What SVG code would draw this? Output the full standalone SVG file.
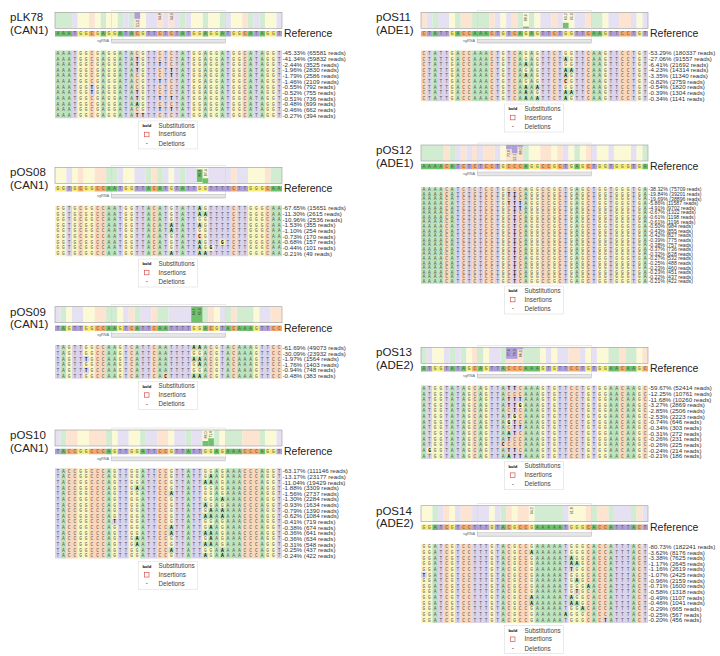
<svg xmlns="http://www.w3.org/2000/svg" xmlns:xlink="http://www.w3.org/1999/xlink" width="720" height="656" viewBox="0 0 720 656">
<style>
.A,.C,.G,.T,.a,.c,.g,.t{fill:none;stroke-width:1}
.A{stroke:#6ec26e}.C{stroke:#f6a86a}.G{stroke:#f3ec7a}.T{stroke:#ae9fd7}
.a{stroke:#bee4be}.c{stroke:#fbd8bc}.g{stroke:#faf7c3}.t{stroke:#dbd4ed}
.s{font-family:"Liberation Mono",monospace;font-size:4.6px;letter-spacing:2.915px;fill:#555}
.b{font-weight:bold;fill:#000}
.p{font-family:"Liberation Sans",Arial,sans-serif;font-size:6.2px;fill:#333}
.p2{font-family:"Liberation Sans",Arial,sans-serif;font-size:5.2px;fill:#333}
.lab{font-family:"Liberation Sans",Arial,sans-serif;font-size:11.5px;fill:#222}
.rf{font-family:"Liberation Sans",Arial,sans-serif;font-size:10.5px;fill:#222}
.lt{font-family:"Liberation Sans",Arial,sans-serif;font-size:6.3px;fill:#444}
.lb{font-family:"Liberation Sans",Arial,sans-serif;font-size:4.2px;font-weight:bold;fill:#000}
.sgl{font-family:"Liberation Sans",Arial,sans-serif;font-size:3.8px;fill:#666}
.m{font-family:"Liberation Sans",Arial,sans-serif;font-size:3.6px;fill:#333;text-anchor:middle}
.fr{fill:none;stroke:#999;stroke-width:.6}
.win{fill:none;stroke:#d4d4d4;stroke-width:.5}
.sg{fill:#e6e6e6;stroke:#aaa;stroke-width:.4}
</style>
<defs>
<g id="lg">
<rect x="83.3" width="59" height="28" fill="#fff" stroke="#ddd" stroke-width=".6"/>
<text class="lb" x="87.5" y="6.4">bold</text>
<text class="lt" x="103.5" y="6.9">Substitutions</text>
<rect x="89.5" y="11.3" width="4.5" height="4.5" fill="none" stroke="#d9534f" stroke-width=".7"/>
<text class="lt" x="103.5" y="15.5">Insertions</text>
<text class="lt" x="90.8" y="24.2">-</text>
<text class="lt" x="103.5" y="24.9">Deletions</text>
</g>
<g id="k1">
<path class="A" d="M0 .5h3M8 .5h1M11 .5h1M13 .5h1M22 .5h1M26 .5h1M29 .5h1M34 .5h1M36 .5h1"/>
<path class="T" d="M3 .5h1M12 .5h1M16 .5h2M19 .5h1M21 .5h1M23 .5h1M30 .5h1M35 .5h1M39 .5h1"/>
<path class="G" d="M4 .5h2M7 .5h1M9 .5h2M15 .5h1M24 .5h2M27 .5h2M31 .5h2M37 .5h2"/>
<path class="C" d="M6 .5h1M14 .5h1M18 .5h1M20 .5h1M33 .5h1"/>
</g>
<g id="k2">
<path class="G" d="M0 .5h2M3 .5h1M5 .5h2M12 .5h2M20 .5h1M25 .5h2M34 .5h3"/>
<path class="T" d="M2 .5h1M11 .5h1M14 .5h2M19 .5h1M21 .5h1M23 .5h2M27 .5h4M32 .5h2"/>
<path class="C" d="M4 .5h1M7 .5h2M17 .5h1M31 .5h1M37 .5h1"/>
<path class="A" d="M9 .5h2M16 .5h1M18 .5h1M22 .5h1M38 .5h2"/>
</g>
<g id="k3">
<path class="T" d="M0 .5h1M3 .5h2M12 .5h1M15 .5h2M20 .5h4M29 .5h1M36 .5h2"/>
<path class="A" d="M1 .5h1M9 .5h2M14 .5h1M18 .5h2M26 .5h1M30 .5h1M32 .5h3"/>
<path class="G" d="M2 .5h1M5 .5h2M11 .5h1M24 .5h2M28 .5h1M35 .5h1"/>
<path class="C" d="M7 .5h2M13 .5h1M17 .5h1M27 .5h1M31 .5h1M38 .5h2"/>
</g>
<g id="k4">
<path class="T" d="M0 .5h1M11 .5h2M16 .5h2M21 .5h2M24 .5h2M39 .5h1"/>
<path class="A" d="M1 .5h1M9 .5h1M15 .5h1M23 .5h1M28 .5h1M30 .5h3M36 .5h1"/>
<path class="C" d="M2 .5h2M6 .5h3M18 .5h2M33 .5h3"/>
<path class="G" d="M4 .5h2M10 .5h1M13 .5h2M20 .5h1M26 .5h2M29 .5h1M37 .5h2"/>
</g>
<g id="k5">
<path class="C" d="M0 .5h1M7 .5h2M12 .5h1M16 .5h1M23 .5h1M29 .5h1M35 .5h2"/>
<path class="T" d="M1 .5h1M3 .5h2M13 .5h1M15 .5h1M21 .5h2M24 .5h1M27 .5h2M33 .5h2M37 .5h1M39 .5h1"/>
<path class="A" d="M2 .5h1M6 .5h1M9 .5h3M17 .5h1M19 .5h1M30 .5h2"/>
<path class="G" d="M5 .5h1M14 .5h1M18 .5h1M20 .5h1M25 .5h2M32 .5h1M38 .5h1"/>
</g>
<g id="k6">
<path class="A" d="M0 .5h4M5 .5h1M18 .5h1M27 .5h1M39 .5h1"/>
<path class="C" d="M4 .5h1M7 .5h1M9 .5h1M11 .5h2M15 .5h3M21 .5h2M24 .5h1M29 .5h1"/>
<path class="T" d="M6 .5h1M8 .5h1M10 .5h1M13 .5h1M25 .5h1M30 .5h1M33 .5h1M37 .5h1"/>
<path class="G" d="M14 .5h1M19 .5h2M23 .5h1M26 .5h1M28 .5h1M31 .5h2M34 .5h3M38 .5h1"/>
</g>
<g id="k7">
<path class="A" d="M0 .5h1M5 .5h1M7 .5h1M10 .5h1M14 .5h1M18 .5h3M33 .5h2M36 .5h2"/>
<path class="T" d="M1 .5h1M4 .5h1M6 .5h1M12 .5h2M22 .5h1M24 .5h2M28 .5h1M30 .5h1"/>
<path class="G" d="M2 .5h2M8 .5h1M11 .5h1M21 .5h1M23 .5h1M29 .5h1M31 .5h2M38 .5h1"/>
<path class="C" d="M9 .5h1M15 .5h3M26 .5h2M35 .5h1M39 .5h1"/>
</g>
<g id="k8">
<path class="G" d="M0 .5h2M5 .5h1M12 .5h1M16 .5h1M19 .5h1M26 .5h3"/>
<path class="A" d="M2 .5h1M14 .5h1M20 .5h5M30 .5h1M33 .5h1M37 .5h1"/>
<path class="T" d="M3 .5h1M6 .5h1M9 .5h3M13 .5h1M25 .5h1M34 .5h3M39 .5h1"/>
<path class="C" d="M4 .5h1M7 .5h2M15 .5h1M17 .5h2M29 .5h1M31 .5h2M38 .5h1"/>
</g>
</defs>
<rect width="720" height="656" fill="#fff"/>

<g id="pLK78" transform="translate(55,12.3)">
<text class="lab" x="-45" y="8.9">pLK78</text><text class="lab" x="-45" y="21.5">(CAN1)</text>
<use href="#k1" transform="scale(5.675,16)" opacity=".3"/>
<rect x="79.45" width="5.675" height="6.5" fill="#ae9fd7"/>
<text class="m" transform="translate(82.29,11.3) rotate(-90)" dy="1.3">51.0</text>
<text class="m" transform="translate(105,4.2) rotate(-90)" dy="1.3">94.8</text>
<text class="m" transform="translate(116.34,4.2) rotate(-90)" dy="1.3">94.9</text>
<rect class="fr" width="227" height="16"/>
<rect class="win" x="56.75" y="-2" width="113.5" height="33"/>
<use href="#k1" transform="translate(0,18.7) scale(5.675,5.6)"/>
<text class="s" x="1.46" y="23.1">AAATGGCGAGGATACGTTCTCTATGGAGGATGGCATAGGT</text>
<text class="rf" x="229" y="25.2">Reference</text>
<rect class="sg" x="56.75" y="27" width="113.5" height="3.4"/><text class="sgl" x="42" y="29.8">sgRNA</text>
<use href="#k1" transform="translate(0,38.175) scale(5.675,67.8)" opacity=".45"/>
<g transform="translate(0,38.175) scale(5.675,5.65)"><path class="t" d="M14 1.5h1M14 2.5h1M18 2.5h1M14 3.5h1M20 3.5h1M20 4.5h1M18 5.5h1M6 6.5h1M6 7.5h1M14 7.5h1M14 8.5h1M18 8.5h1M20 8.5h1M18 10.5h1M20 10.5h1M14 11.5h2"/><path class="a" d="M14 9.5h1"/></g>
<text class="s" y="42.6"><tspan x="1.46">AAATGGCGAGGATACGTTCTCTATGGAGGATGGCATAGGT</tspan><tspan x="1.46" dy="5.65">AAATGGCGAGGATA<tspan class="b">T</tspan>GTTCTCTATGGAGGATGGCATAGGT</tspan><tspan x="1.46" dy="5.65">AAATGGCGAGGATA<tspan class="b">T</tspan>GTT<tspan class="b">T</tspan>TCTATGGAGGATGGCATAGGT</tspan><tspan x="1.46" dy="5.65">AAATGGCGAGGATA<tspan class="b">T</tspan>GTTCT<tspan class="b">T</tspan>TATGGAGGATGGCATAGGT</tspan><tspan x="1.46" dy="5.65">AAATGGCGAGGATACGTTCT<tspan class="b">T</tspan>TATGGAGGATGGCATAGGT</tspan><tspan x="1.46" dy="5.65">AAATGGCGAGGATACGTT<tspan class="b">T</tspan>TCTATGGAGGATGGCATAGGT</tspan><tspan x="1.46" dy="5.65">AAATGG<tspan class="b">T</tspan>GAGGATACGTTCTCTATGGAGGATGGCATAGGT</tspan><tspan x="1.46" dy="5.65">AAATGG<tspan class="b">T</tspan>GAGGATA<tspan class="b">T</tspan>GTTCTCTATGGAGGATGGCATAGGT</tspan><tspan x="1.46" dy="5.65">AAATGGCGAGGATA<tspan class="b">T</tspan>GTT<tspan class="b">T</tspan>T<tspan class="b">T</tspan>TATGGAGGATGGCATAGGT</tspan><tspan x="1.46" dy="5.65">AAATGGCGAGGATA<tspan class="b">A</tspan>GTTCTCTATGGAGGATGGCATAGGT</tspan><tspan x="1.46" dy="5.65">AAATGGCGAGGATACGTT<tspan class="b">T</tspan>T<tspan class="b">T</tspan>TATGGAGGATGGCATAGGT</tspan><tspan x="1.46" dy="5.65">AAATGGCGAGGATA<tspan class="b">TT</tspan>TTCTCTATGGAGGATGGCATAGGT</tspan></text>
<text class="p" y="43.2"><tspan x="227.5">-45.33% (65581 reads)</tspan><tspan x="227.5" dy="5.65">-41.34% (59832 reads)</tspan><tspan x="227.5" dy="5.65">-2.44% (3525 reads)</tspan><tspan x="227.5" dy="5.65">-1.96% (2830 reads)</tspan><tspan x="227.5" dy="5.65">-1.79% (2586 reads)</tspan><tspan x="227.5" dy="5.65">-1.46% (2109 reads)</tspan><tspan x="227.5" dy="5.65">-0.55% (792 reads)</tspan><tspan x="227.5" dy="5.65">-0.52% (755 reads)</tspan><tspan x="227.5" dy="5.65">-0.51% (736 reads)</tspan><tspan x="227.5" dy="5.65">-0.48% (699 reads)</tspan><tspan x="227.5" dy="5.65">-0.46% (662 reads)</tspan><tspan x="227.5" dy="5.65">-0.27% (394 reads)</tspan></text>
<use href="#lg" y="108.65"/>
</g>

<g id="pOS08" transform="translate(55,167.3)">
<text class="lab" x="-45" y="8.9">pOS08</text><text class="lab" x="-45" y="21.5">(CAN1)</text>
<use href="#k2" transform="scale(5.675,16)" opacity=".3"/>
<rect x="141.875" y="2" width="5.675" height="12.7" fill="#6ec26e"/>
<rect x="147.55" y="11" width="5.675" height="5" fill="#6ec26e"/>
<text class="m" transform="translate(144.71,6) rotate(-90)" dy="1.3">80.8</text>
<text class="m" transform="translate(150.39,5.5) rotate(-90)" dy="1.3">87.4</text>
<rect class="fr" width="227" height="16"/>
<rect class="win" x="56.75" y="-2" width="113.5" height="33"/>
<use href="#k2" transform="translate(0,18.7) scale(5.675,5.6)"/>
<text class="s" x="1.46" y="23.1">GGTGCGGCCAATGGTTACATGTATTGGTTTTCTTGGGCAA</text>
<text class="rf" x="229" y="25.2">Reference</text>
<rect class="sg" x="56.75" y="27" width="113.5" height="3.4"/><text class="sgl" x="42" y="29.8">sgRNA</text>
<use href="#k2" transform="translate(0,38.175) scale(5.675,50.85)" opacity=".45"/>
<g transform="translate(0,38.175) scale(5.675,5.65)"><path class="a" d="M25 .5h1M25 1.5h2M20 3.5h1M25 3.5h1M20 4.5h1M25 6.5h1M25 7.5h1M20 8.5h1M25 8.5h2"/><path class="c" d="M25 5.5h1"/><path class="g" d="M29 6.5h1M27 7.5h1"/></g>
<text class="s" y="42.6"><tspan x="1.46">GGTGCGGCCAATGGTTACATGTATT<tspan class="b">A</tspan>GTTTTCTTGGGCAA</tspan><tspan x="1.46" dy="5.65">GGTGCGGCCAATGGTTACATGTATT<tspan class="b">AA</tspan>TTTTCTTGGGCAA</tspan><tspan x="1.46" dy="5.65">GGTGCGGCCAATGGTTACATGTATTGGTTTTCTTGGGCAA</tspan><tspan x="1.46" dy="5.65">GGTGCGGCCAATGGTTACAT<tspan class="b">A</tspan>TATT<tspan class="b">A</tspan>GTTTTCTTGGGCAA</tspan><tspan x="1.46" dy="5.65">GGTGCGGCCAATGGTTACAT<tspan class="b">A</tspan>TATTGGTTTTCTTGGGCAA</tspan><tspan x="1.46" dy="5.65">GGTGCGGCCAATGGTTACATGTATT<tspan class="b">C</tspan>GTTTTCTTGGGCAA</tspan><tspan x="1.46" dy="5.65">GGTGCGGCCAATGGTTACATGTATT<tspan class="b">A</tspan>GTT<tspan class="b">G</tspan>TCTTGGGCAA</tspan><tspan x="1.46" dy="5.65">GGTGCGGCCAATGGTTACATGTATT<tspan class="b">A</tspan>G<tspan class="b">G</tspan>TTTCTTGGGCAA</tspan><tspan x="1.46" dy="5.65">GGTGCGGCCAATGGTTACAT<tspan class="b">A</tspan>TATT<tspan class="b">AA</tspan>TTTTCTTGGGCAA</tspan></text>
<text class="p" y="43.2"><tspan x="227.5">-67.65% (15651 reads)</tspan><tspan x="227.5" dy="5.65">-11.30% (2615 reads)</tspan><tspan x="227.5" dy="5.65">-10.96% (2536 reads)</tspan><tspan x="227.5" dy="5.65">-1.53% (355 reads)</tspan><tspan x="227.5" dy="5.65">-1.10% (254 reads)</tspan><tspan x="227.5" dy="5.65">-0.73% (170 reads)</tspan><tspan x="227.5" dy="5.65">-0.68% (157 reads)</tspan><tspan x="227.5" dy="5.65">-0.44% (101 reads)</tspan><tspan x="227.5" dy="5.65">-0.21% (49 reads)</tspan></text>
<use href="#lg" y="91.7"/>
</g>

<g id="pOS09" transform="translate(55,306.7)">
<text class="lab" x="-45" y="8.9">pOS09</text><text class="lab" x="-45" y="21.5">(CAN1)</text>
<use href="#k3" transform="scale(5.675,16)" opacity=".3"/>
<rect x="136.2" width="11.35" height="16" fill="#6ec26e"/>
<text class="m" transform="translate(139.04,5) rotate(-90)" dy="1.3">64.1</text>
<text class="m" transform="translate(144.71,5) rotate(-90)" dy="1.3">65.9</text>
<rect class="fr" width="227" height="16"/>
<rect class="win" x="56.75" y="-2" width="113.5" height="33"/>
<use href="#k3" transform="translate(0,18.7) scale(5.675,5.6)"/>
<text class="s" x="1.46" y="23.1">TAGTTGGCCAAGTCATTCAATTTTGGACGTACAAAGTTCC</text>
<text class="rf" x="229" y="25.2">Reference</text>
<rect class="sg" x="56.75" y="27" width="113.5" height="3.4"/><text class="sgl" x="42" y="29.8">sgRNA</text>
<use href="#k3" transform="translate(0,38.175) scale(5.675,33.9)" opacity=".45"/>
<g transform="translate(0,38.175) scale(5.675,5.65)"><path class="a" d="M24 .5h2M24 2.5h2M25 3.5h1M24 5.5h2"/><path class="t" d="M5 2.5h1M5 4.5h1"/><path class="c" d="M19 5.5h1"/></g>
<text class="s" y="42.6"><tspan x="1.46">TAGTTGGCCAAGTCATTCAATTTT<tspan class="b">AA</tspan>ACGTACAAAGTTCC</tspan><tspan x="1.46" dy="5.65">TAGTTGGCCAAGTCATTCAATTTTGGACGTACAAAGTTCC</tspan><tspan x="1.46" dy="5.65">TAGTT<tspan class="b">T</tspan>GCCAAGTCATTCAATTTT<tspan class="b">AA</tspan>ACGTACAAAGTTCC</tspan><tspan x="1.46" dy="5.65">TAGTTGGCCAAGTCATTCAATTTTG<tspan class="b">A</tspan>ACGTACAAAGTTCC</tspan><tspan x="1.46" dy="5.65">TAGTT<tspan class="b">T</tspan>GCCAAGTCATTCAATTTTGGACGTACAAAGTTCC</tspan><tspan x="1.46" dy="5.65">TAGTTGGCCAAGTCATTCA<tspan class="b">C</tspan>TTTT<tspan class="b">AA</tspan>ACGTACAAAGTTCC</tspan></text>
<text class="p" y="43.2"><tspan x="227.5">-61.69% (49073 reads)</tspan><tspan x="227.5" dy="5.65">-30.09% (23932 reads)</tspan><tspan x="227.5" dy="5.65">-1.97% (1564 reads)</tspan><tspan x="227.5" dy="5.65">-1.76% (1403 reads)</tspan><tspan x="227.5" dy="5.65">-0.94% (748 reads)</tspan><tspan x="227.5" dy="5.65">-0.48% (383 reads)</tspan></text>
<use href="#lg" y="74.75"/>
</g>

<g id="pOS10" transform="translate(55,430)">
<text class="lab" x="-45" y="8.9">pOS10</text><text class="lab" x="-45" y="21.5">(CAN1)</text>
<use href="#k4" transform="scale(5.675,16)" opacity=".3"/>
<rect x="147.55" y="11" width="5.675" height="5" fill="#6ec26e"/>
<rect x="153.225" y="8.3" width="5.675" height="7.7" fill="#6ec26e"/>
<text class="m" transform="translate(150.39,5) rotate(-90)" dy="1.3">86.0</text>
<text class="m" transform="translate(156.06,4.2) rotate(-90)" dy="1.3">71.6</text>
<rect class="fr" width="227" height="16"/>
<rect class="win" x="56.75" y="-2" width="113.5" height="33"/>
<use href="#k4" transform="translate(0,18.7) scale(5.675,5.6)"/>
<text class="s" x="1.46" y="23.1">TACCGGCCCAGTTGGATTCCGTTATTGGAGAAACCCAGGT</text>
<text class="rf" x="229" y="25.2">Reference</text>
<rect class="sg" x="56.75" y="27" width="113.5" height="3.4"/><text class="sgl" x="42" y="29.8">sgRNA</text>
<use href="#k4" transform="translate(0,38.175) scale(5.675,90.4)" opacity=".45"/>
<g transform="translate(0,38.175) scale(5.675,5.65)"><path class="a" d="M27 1.5h1M26 2.5h2M14 3.5h1M20 4.5h1M29 5.5h1M26 6.5h1M27 7.5h1M29 7.5h1M26 8.5h2M29 8.5h1M20 10.5h1M27 10.5h1M20 11.5h1M26 11.5h2M14 12.5h1M27 12.5h1M14 13.5h1M26 13.5h2M20 14.5h1M29 14.5h1M26 15.5h1M29 15.5h1"/><path class="t" d="M10 9.5h1"/></g>
<text class="s" y="42.6"><tspan x="1.46">TACCGGCCCAGTTGGATTCCGTTATTGGAGAAACCCAGGT</tspan><tspan x="1.46" dy="5.65">TACCGGCCCAGTTGGATTCCGTTATTG<tspan class="b">A</tspan>AGAAACCCAGGT</tspan><tspan x="1.46" dy="5.65">TACCGGCCCAGTTGGATTCCGTTATT<tspan class="b">AA</tspan>AGAAACCCAGGT</tspan><tspan x="1.46" dy="5.65">TACCGGCCCAGTTG<tspan class="b">A</tspan>ATTCCGTTATTGGAGAAACCCAGGT</tspan><tspan x="1.46" dy="5.65">TACCGGCCCAGTTGGATTCC<tspan class="b">A</tspan>TTATTGGAGAAACCCAGGT</tspan><tspan x="1.46" dy="5.65">TACCGGCCCAGTTGGATTCCGTTATTGGA<tspan class="b">A</tspan>AAACCCAGGT</tspan><tspan x="1.46" dy="5.65">TACCGGCCCAGTTGGATTCCGTTATT<tspan class="b">A</tspan>GAGAAACCCAGGT</tspan><tspan x="1.46" dy="5.65">TACCGGCCCAGTTGGATTCCGTTATTG<tspan class="b">A</tspan>A<tspan class="b">A</tspan>AAACCCAGGT</tspan><tspan x="1.46" dy="5.65">TACCGGCCCAGTTGGATTCCGTTATT<tspan class="b">AA</tspan>A<tspan class="b">A</tspan>AAACCCAGGT</tspan><tspan x="1.46" dy="5.65">TACCGGCCCA<tspan class="b">T</tspan>TTGGATTCCGTTATTGGAGAAACCCAGGT</tspan><tspan x="1.46" dy="5.65">TACCGGCCCAGTTGGATTCC<tspan class="b">A</tspan>TTATTG<tspan class="b">A</tspan>AGAAACCCAGGT</tspan><tspan x="1.46" dy="5.65">TACCGGCCCAGTTGGATTCC<tspan class="b">A</tspan>TTATT<tspan class="b">AA</tspan>AGAAACCCAGGT</tspan><tspan x="1.46" dy="5.65">TACCGGCCCAGTTG<tspan class="b">A</tspan>ATTCCGTTATTG<tspan class="b">A</tspan>AGAAACCCAGGT</tspan><tspan x="1.46" dy="5.65">TACCGGCCCAGTTG<tspan class="b">A</tspan>ATTCCGTTATT<tspan class="b">AA</tspan>AGAAACCCAGGT</tspan><tspan x="1.46" dy="5.65">TACCGGCCCAGTTGGATTCC<tspan class="b">A</tspan>TTATTGGA<tspan class="b">A</tspan>AAACCCAGGT</tspan><tspan x="1.46" dy="5.65">TACCGGCCCAGTTGGATTCCGTTATT<tspan class="b">A</tspan>GA<tspan class="b">A</tspan>AAACCCAGGT</tspan></text>
<text class="p" y="43.2"><tspan x="227.5">-63.17% (111146 reads)</tspan><tspan x="227.5" dy="5.65">-13.17% (23177 reads)</tspan><tspan x="227.5" dy="5.65">-11.04% (19429 reads)</tspan><tspan x="227.5" dy="5.65">-1.88% (3309 reads)</tspan><tspan x="227.5" dy="5.65">-1.56% (2737 reads)</tspan><tspan x="227.5" dy="5.65">-1.30% (2284 reads)</tspan><tspan x="227.5" dy="5.65">-0.93% (1634 reads)</tspan><tspan x="227.5" dy="5.65">-0.79% (1390 reads)</tspan><tspan x="227.5" dy="5.65">-0.62% (1084 reads)</tspan><tspan x="227.5" dy="5.65">-0.41% (719 reads)</tspan><tspan x="227.5" dy="5.65">-0.38% (674 reads)</tspan><tspan x="227.5" dy="5.65">-0.36% (641 reads)</tspan><tspan x="227.5" dy="5.65">-0.36% (634 reads)</tspan><tspan x="227.5" dy="5.65">-0.31% (548 reads)</tspan><tspan x="227.5" dy="5.65">-0.25% (437 reads)</tspan><tspan x="227.5" dy="5.65">-0.24% (422 reads)</tspan></text>
<use href="#lg" y="131.25"/>
</g>

<g id="pOS11" transform="translate(421,12.3)">
<text class="lab" x="-45" y="8.9">pOS11</text><text class="lab" x="-45" y="21.5">(ADE1)</text>
<use href="#k5" transform="scale(5.675,16)" opacity=".3"/>
<rect x="102.15" y="14.3" width="5.675" height="1.7" fill="#6ec26e"/>
<rect x="141.875" y="10.5" width="5.675" height="5.5" fill="#6ec26e"/>
<text class="m" transform="translate(105,5.5) rotate(-90)" dy="1.3">88.9</text>
<text class="m" transform="translate(144.71,4.5) rotate(-90)" dy="1.3">63.2</text>
<text class="m" transform="translate(150.39,4.5) rotate(-90)" dy="1.3">95.0</text>
<rect class="fr" width="227" height="16"/>
<rect class="win" x="56.75" y="-2" width="113.5" height="33"/>
<use href="#k5" transform="translate(0,18.7) scale(5.675,5.6)"/>
<text class="s" x="1.46" y="23.1">CTATTGACCAAACTGTCAGAGTTCTGGTTCAAGTTCCTGT</text>
<text class="rf" x="229" y="25.2">Reference</text>
<rect class="sg" x="56.75" y="27" width="113.5" height="3.4"/><text class="sgl" x="42" y="29.8">sgRNA</text>
<use href="#k5" transform="translate(0,38.175) scale(5.675,50.85)" opacity=".45"/>
<g transform="translate(0,38.175) scale(5.675,5.65)"><path class="a" d="M25 1.5h1M18 2.5h1M25 3.5h2M18 4.5h1M25 4.5h1M18 6.5h1M20 6.5h1M18 7.5h1M25 7.5h2M18 8.5h1M20 8.5h1M25 8.5h1"/><path class="c" d="M25 5.5h1"/></g>
<text class="s" y="42.6"><tspan x="1.46">CTATTGACCAAACTGTCAGAGTTCTGGTTCAAGTTCCTGT</tspan><tspan x="1.46" dy="5.65">CTATTGACCAAACTGTCAGAGTTCT<tspan class="b">A</tspan>GTTCAAGTTCCTGT</tspan><tspan x="1.46" dy="5.65">CTATTGACCAAACTGTCA<tspan class="b">A</tspan>AGTTCTGGTTCAAGTTCCTGT</tspan><tspan x="1.46" dy="5.65">CTATTGACCAAACTGTCAGAGTTCT<tspan class="b">AA</tspan>TTCAAGTTCCTGT</tspan><tspan x="1.46" dy="5.65">CTATTGACCAAACTGTCA<tspan class="b">A</tspan>AGTTCT<tspan class="b">A</tspan>GTTCAAGTTCCTGT</tspan><tspan x="1.46" dy="5.65">CTATTGACCAAACTGTCAGAGTTCT<tspan class="b">C</tspan>GTTCAAGTTCCTGT</tspan><tspan x="1.46" dy="5.65">CTATTGACCAAACTGTCA<tspan class="b">A</tspan>A<tspan class="b">A</tspan>TTCTGGTTCAAGTTCCTGT</tspan><tspan x="1.46" dy="5.65">CTATTGACCAAACTGTCA<tspan class="b">A</tspan>AGTTCT<tspan class="b">AA</tspan>TTCAAGTTCCTGT</tspan><tspan x="1.46" dy="5.65">CTATTGACCAAACTGTCA<tspan class="b">A</tspan>A<tspan class="b">A</tspan>TTCT<tspan class="b">A</tspan>GTTCAAGTTCCTGT</tspan></text>
<text class="p" y="43.2"><tspan x="227.5">-53.29% (180337 reads)</tspan><tspan x="227.5" dy="5.65">-27.06% (91557 reads)</tspan><tspan x="227.5" dy="5.65">-6.41% (21692 reads)</tspan><tspan x="227.5" dy="5.65">-4.23% (14314 reads)</tspan><tspan x="227.5" dy="5.65">-3.35% (11340 reads)</tspan><tspan x="227.5" dy="5.65">-0.82% (2759 reads)</tspan><tspan x="227.5" dy="5.65">-0.54% (1820 reads)</tspan><tspan x="227.5" dy="5.65">-0.39% (1304 reads)</tspan><tspan x="227.5" dy="5.65">-0.34% (1141 reads)</tspan></text>
<use href="#lg" y="91.7"/>
</g>

<g id="pOS12" transform="translate(421,145)">
<text class="lab" x="-45" y="8.9">pOS12</text><text class="lab" x="-45" y="21.5">(ADE1)</text>
<use href="#k6" transform="scale(5.675,16)" opacity=".3"/>
<rect x="85.125" width="5.675" height="4.3" fill="#ae9fd7"/>
<rect x="90.8" width="5.675" height="8.3" fill="#ae9fd7"/>
<rect x="96.475" width="5.675" height="1.8" fill="#ae9fd7"/>
<text class="m" transform="translate(87.96,8.5) rotate(-90)" dy="1.3">72.6</text>
<text class="m" transform="translate(93.64,12.3) rotate(-90)" dy="1.3">52.1</text>
<text class="m" transform="translate(99.31,6) rotate(-90)" dy="1.3">88.0</text>
<rect class="fr" width="227" height="16"/>
<rect class="win" x="56.75" y="-2" width="113.5" height="33"/>
<use href="#k6" transform="translate(0,18.7) scale(5.675,5.6)"/>
<text class="s" x="1.46" y="23.1">AAAACATCTCTCCTGCCCAGGCCGCTGAGCTGGTGGGTGA</text>
<text class="rf" x="229" y="25.2">Reference</text>
<rect class="sg" x="56.75" y="27" width="113.5" height="3.4"/><text class="sgl" x="42" y="29.8">sgRNA</text>
<use href="#k6" transform="translate(0,42.2) scale(5.675,96.6)" opacity=".45"/>
<g transform="translate(0,42.2) scale(5.675,4.6)"><path class="t" d="M15 1.5h2M16 2.5h1M15 3.5h3M16 4.5h2M16 5.5h1M16 6.5h1M16 7.5h1M16 8.5h1M16 9.5h1M16 10.5h1M16 11.5h1M16 12.5h1M16 13.5h1M16 14.5h1M16 15.5h1M16 16.5h1M16 17.5h1M16 18.5h1M16 19.5h1M16 20.5h1"/></g>
<text class="s" y="46.1"><tspan x="1.46">AAAACATCTCTCCTGCCCAGGCCGCTGAGCTGGTGGGTGA</tspan><tspan x="1.46" dy="4.6">AAAACATCTCTCCTG<tspan class="b">TT</tspan>CAGGCCGCTGAGCTGGTGGGTGA</tspan><tspan x="1.46" dy="4.6">AAAACATCTCTCCTGC<tspan class="b">T</tspan>CAGGCCGCTGAGCTGGTGGGTGA</tspan><tspan x="1.46" dy="4.6">AAAACATCTCTCCTG<tspan class="b">TTT</tspan>AGGCCGCTGAGCTGGTGGGTGA</tspan><tspan x="1.46" dy="4.6">AAAACATCTCTCCTGC<tspan class="b">TT</tspan>AGGCCGCTGAGCTGGTGGGTGA</tspan><tspan x="1.46" dy="4.6">AAAACATCTCTCCTGC<tspan class="b">T</tspan>CAGGCCGCTGAGCTGGTGGGTGA</tspan><tspan x="1.46" dy="4.6">AAAACATCTCTCCTGC<tspan class="b">T</tspan>CAGGCCGCTGAGCTGGTGGGTGA</tspan><tspan x="1.46" dy="4.6">AAAACATCTCTCCTGC<tspan class="b">T</tspan>CAGGCCGCTGAGCTGGTGGGTGA</tspan><tspan x="1.46" dy="4.6">AAAACATCTCTCCTGC<tspan class="b">T</tspan>CAGGCCGCTGAGCTGGTGGGTGA</tspan><tspan x="1.46" dy="4.6">AAAACATCTCTCCTGC<tspan class="b">T</tspan>CAGGCCGCTGAGCTGGTGGGTGA</tspan><tspan x="1.46" dy="4.6">AAAACATCTCTCCTGC<tspan class="b">T</tspan>CAGGCCGCTGAGCTGGTGGGTGA</tspan><tspan x="1.46" dy="4.6">AAAACATCTCTCCTGC<tspan class="b">T</tspan>CAGGCCGCTGAGCTGGTGGGTGA</tspan><tspan x="1.46" dy="4.6">AAAACATCTCTCCTGC<tspan class="b">T</tspan>CAGGCCGCTGAGCTGGTGGGTGA</tspan><tspan x="1.46" dy="4.6">AAAACATCTCTCCTGC<tspan class="b">T</tspan>CAGGCCGCTGAGCTGGTGGGTGA</tspan><tspan x="1.46" dy="4.6">AAAACATCTCTCCTGC<tspan class="b">T</tspan>CAGGCCGCTGAGCTGGTGGGTGA</tspan><tspan x="1.46" dy="4.6">AAAACATCTCTCCTGC<tspan class="b">T</tspan>CAGGCCGCTGAGCTGGTGGGTGA</tspan><tspan x="1.46" dy="4.6">AAAACATCTCTCCTGC<tspan class="b">T</tspan>CAGGCCGCTGAGCTGGTGGGTGA</tspan><tspan x="1.46" dy="4.6">AAAACATCTCTCCTGC<tspan class="b">T</tspan>CAGGCCGCTGAGCTGGTGGGTGA</tspan><tspan x="1.46" dy="4.6">AAAACATCTCTCCTGC<tspan class="b">T</tspan>CAGGCCGCTGAGCTGGTGGGTGA</tspan><tspan x="1.46" dy="4.6">AAAACATCTCTCCTGC<tspan class="b">T</tspan>CAGGCCGCTGAGCTGGTGGGTGA</tspan><tspan x="1.46" dy="4.6">AAAACATCTCTCCTGC<tspan class="b">T</tspan>CAGGCCGCTGAGCTGGTGGGTGA</tspan></text>
<text class="p2" y="46.4"><tspan x="227.5">-38.32% (75709 reads)</tspan><tspan x="227.5" dy="4.6">-19.84% (39201 reads)</tspan><tspan x="227.5" dy="4.6">-19.69% (38896 reads)</tspan><tspan x="227.5" dy="4.6">-5.86% (11587 reads)</tspan><tspan x="227.5" dy="4.6">-4.91% (9702 reads)</tspan><tspan x="227.5" dy="4.6">-0.67% (1322 reads)</tspan><tspan x="227.5" dy="4.6">-0.61% (1198 reads)</tspan><tspan x="227.5" dy="4.6">-0.61% (1196 reads)</tspan><tspan x="227.5" dy="4.6">-0.50% (984 reads)</tspan><tspan x="227.5" dy="4.6">-0.43% (855 reads)</tspan><tspan x="227.5" dy="4.6">-0.42% (827 reads)</tspan><tspan x="227.5" dy="4.6">-0.39% (775 reads)</tspan><tspan x="227.5" dy="4.6">-0.38% (757 reads)</tspan><tspan x="227.5" dy="4.6">-0.37% (736 reads)</tspan><tspan x="227.5" dy="4.6">-0.32% (628 reads)</tspan><tspan x="227.5" dy="4.6">-0.27% (532 reads)</tspan><tspan x="227.5" dy="4.6">-0.25% (488 reads)</tspan><tspan x="227.5" dy="4.6">-0.23% (460 reads)</tspan><tspan x="227.5" dy="4.6">-0.23% (451 reads)</tspan><tspan x="227.5" dy="4.6">-0.22% (437 reads)</tspan><tspan x="227.5" dy="4.6">-0.21% (422 reads)</tspan></text>
<use href="#lg" y="141"/>
</g>

<g id="pOS13" transform="translate(421,347.3)">
<text class="lab" x="-45" y="8.9">pOS13</text><text class="lab" x="-45" y="21.5">(ADE2)</text>
<use href="#k7" transform="scale(5.675,16)" opacity=".3"/>
<rect x="85.125" width="11.35" height="11.5" fill="#ae9fd7"/>
<rect x="96.475" width="5.675" height="2" fill="#ae9fd7"/>
<text class="m" transform="translate(87.96,5.5) rotate(-90)" dy="1.3">77.6</text>
<text class="m" transform="translate(93.64,5.5) rotate(-90)" dy="1.3">79.3</text>
<text class="m" transform="translate(99.31,6.5) rotate(-90)" dy="1.3">86.0</text>
<rect class="fr" width="227" height="16"/>
<rect class="win" x="56.75" y="-2" width="113.5" height="33"/>
<use href="#k7" transform="translate(0,18.7) scale(5.675,5.6)"/>
<text class="s" x="1.46" y="23.1">ATGGTATAGCAGTTACCCAAAGTGTTCCTGTGGAACAAGC</text>
<text class="rf" x="229" y="25.2">Reference</text>
<rect class="sg" x="56.75" y="27" width="113.5" height="3.4"/><text class="sgl" x="42" y="29.8">sgRNA</text>
<use href="#k7" transform="translate(0,38.175) scale(5.675,73.45)" opacity=".45"/>
<g transform="translate(0,38.175) scale(5.675,5.65)"><path class="t" d="M15 .5h2M15 2.5h3M15 3.5h2M16 4.5h1M15 5.5h1M16 6.5h1M16 7.5h2M16 8.5h1M15 9.5h1M15 11.5h2M16 12.5h2"/><path class="g" d="M17 3.5h1M16 5.5h1M15 6.5h1M1 11.5h1"/><path class="a" d="M15 8.5h1M15 12.5h1"/><path class="c" d="M14 10.5h1"/></g>
<text class="s" y="42.6"><tspan x="1.46">ATGGTATAGCAGTTA<tspan class="b">TT</tspan>CAAAGTGTTCCTGTGGAACAAGC</tspan><tspan x="1.46" dy="5.65">ATGGTATAGCAGTTACCCAAAGTGTTCCTGTGGAACAAGC</tspan><tspan x="1.46" dy="5.65">ATGGTATAGCAGTTA<tspan class="b">TTT</tspan>AAAGTGTTCCTGTGGAACAAGC</tspan><tspan x="1.46" dy="5.65">ATGGTATAGCAGTTA<tspan class="b">TTG</tspan>AAAGTGTTCCTGTGGAACAAGC</tspan><tspan x="1.46" dy="5.65">ATGGTATAGCAGTTAC<tspan class="b">T</tspan>CAAAGTGTTCCTGTGGAACAAGC</tspan><tspan x="1.46" dy="5.65">ATGGTATAGCAGTTA<tspan class="b">TG</tspan>CAAAGTGTTCCTGTGGAACAAGC</tspan><tspan x="1.46" dy="5.65">ATGGTATAGCAGTTA<tspan class="b">GT</tspan>CAAAGTGTTCCTGTGGAACAAGC</tspan><tspan x="1.46" dy="5.65">ATGGTATAGCAGTTAC<tspan class="b">TT</tspan>AAAGTGTTCCTGTGGAACAAGC</tspan><tspan x="1.46" dy="5.65">ATGGTATAGCAGTTA<tspan class="b">AT</tspan>CAAAGTGTTCCTGTGGAACAAGC</tspan><tspan x="1.46" dy="5.65">ATGGTATAGCAGTTA<tspan class="b">T</tspan>CCAAAGTGTTCCTGTGGAACAAGC</tspan><tspan x="1.46" dy="5.65">ATGGTATAGCAGTT<tspan class="b">C</tspan>CCCAAAGTGTTCCTGTGGAACAAGC</tspan><tspan x="1.46" dy="5.65">A<tspan class="b">G</tspan>GGTATAGCAGTTA<tspan class="b">TT</tspan>CAAAGTGTTCCTGTGGAACAAGC</tspan><tspan x="1.46" dy="5.65">ATGGTATAGCAGTTA<tspan class="b">ATT</tspan>AAAGTGTTCCTGTGGAACAAGC</tspan></text>
<text class="p" y="43.2"><tspan x="227.5">-59.67% (52414 reads)</tspan><tspan x="227.5" dy="5.65">-12.25% (10761 reads)</tspan><tspan x="227.5" dy="5.65">-11.68% (10260 reads)</tspan><tspan x="227.5" dy="5.65">-3.27% (2869 reads)</tspan><tspan x="227.5" dy="5.65">-2.85% (2506 reads)</tspan><tspan x="227.5" dy="5.65">-2.53% (2223 reads)</tspan><tspan x="227.5" dy="5.65">-0.74% (646 reads)</tspan><tspan x="227.5" dy="5.65">-0.34% (303 reads)</tspan><tspan x="227.5" dy="5.65">-0.31% (272 reads)</tspan><tspan x="227.5" dy="5.65">-0.26% (231 reads)</tspan><tspan x="227.5" dy="5.65">-0.26% (225 reads)</tspan><tspan x="227.5" dy="5.65">-0.24% (214 reads)</tspan><tspan x="227.5" dy="5.65">-0.21% (186 reads)</tspan></text>
<use href="#lg" y="114.3"/>
</g>

<g id="pOS14" transform="translate(421,505.7)">
<text class="lab" x="-45" y="8.9">pOS14</text><text class="lab" x="-45" y="21.5">(ADE2)</text>
<use href="#k8" transform="scale(5.675,16)" opacity=".3"/>
<text class="m" transform="translate(110.66,5) rotate(-90)" dy="1.3">94.2</text>
<text class="m" transform="translate(150.39,5) rotate(-90)" dy="1.3">91.8</text>
<rect class="fr" width="227" height="16"/>
<rect class="win" x="56.75" y="-2" width="113.5" height="33"/>
<use href="#k8" transform="translate(0,18.7) scale(5.675,5.6)"/>
<text class="s" x="1.46" y="23.1">GGATCGTCCTTTGTACGCCGAAAAATGGGCACCATTTACT</text>
<text class="rf" x="229" y="25.2">Reference</text>
<rect class="sg" x="56.75" y="27" width="113.5" height="3.4"/><text class="sgl" x="42" y="29.8">sgRNA</text>
<use href="#k8" transform="translate(0,38.175) scale(5.675,79.1)" opacity=".45"/>
<g transform="translate(0,38.175) scale(5.675,5.65)"><path class="a" d="M19 1.5h1M26 2.5h1M26 3.5h2M27 6.5h1M29 7.5h1M19 9.5h1M26 9.5h1M19 10.5h1M26 10.5h2M28 11.5h1M25 12.5h1"/><path class="t" d="M26 4.5h1M0 5.5h1M27 8.5h1M32 13.5h1"/></g>
<text class="s" y="42.6"><tspan x="1.46">GGATCGTCCTTTGTACGCCGAAAAATGGGCACCATTTACT</tspan><tspan x="1.46" dy="5.65">GGATCGTCCTTTGTACGCC<tspan class="b">A</tspan>AAAAATGGGCACCATTTACT</tspan><tspan x="1.46" dy="5.65">GGATCGTCCTTTGTACGCCGAAAAAT<tspan class="b">A</tspan>GGCACCATTTACT</tspan><tspan x="1.46" dy="5.65">GGATCGTCCTTTGTACGCCGAAAAAT<tspan class="b">AA</tspan>GCACCATTTACT</tspan><tspan x="1.46" dy="5.65">GGATCGTCCTTTGTACGCCGAAAAAT<tspan class="b">T</tspan>GGCACCATTTACT</tspan><tspan x="1.46" dy="5.65"><tspan class="b">T</tspan>GATCGTCCTTTGTACGCCGAAAAATGGGCACCATTTACT</tspan><tspan x="1.46" dy="5.65">GGATCGTCCTTTGTACGCCGAAAAATG<tspan class="b">A</tspan>GCACCATTTACT</tspan><tspan x="1.46" dy="5.65">GGATCGTCCTTTGTACGCCGAAAAATGGG<tspan class="b">A</tspan>ACCATTTACT</tspan><tspan x="1.46" dy="5.65">GGATCGTCCTTTGTACGCCGAAAAATG<tspan class="b">T</tspan>GCACCATTTACT</tspan><tspan x="1.46" dy="5.65">GGATCGTCCTTTGTACGCC<tspan class="b">A</tspan>AAAAAT<tspan class="b">A</tspan>GGCACCATTTACT</tspan><tspan x="1.46" dy="5.65">GGATCGTCCTTTGTACGCC<tspan class="b">A</tspan>AAAAAT<tspan class="b">AA</tspan>GCACCATTTACT</tspan><tspan x="1.46" dy="5.65">GGATCGTCCTTTGTACGCCGAAAAATGG<tspan class="b">A</tspan>CACCATTTACT</tspan><tspan x="1.46" dy="5.65">GGATCGTCCTTTGTACGCCGAAAAA<tspan class="b">A</tspan>GGGCACCATTTACT</tspan><tspan x="1.46" dy="5.65">GGATCGTCCTTTGTACGCCGAAAAATGGGCAC<tspan class="b">T</tspan>ATTTACT</tspan></text>
<text class="p" y="43.2"><tspan x="227.5">-80.73% (182241 reads)</tspan><tspan x="227.5" dy="5.65">-3.62% (8176 reads)</tspan><tspan x="227.5" dy="5.65">-3.38% (7625 reads)</tspan><tspan x="227.5" dy="5.65">-1.17% (2645 reads)</tspan><tspan x="227.5" dy="5.65">-1.16% (2619 reads)</tspan><tspan x="227.5" dy="5.65">-1.07% (2425 reads)</tspan><tspan x="227.5" dy="5.65">-0.96% (2159 reads)</tspan><tspan x="227.5" dy="5.65">-0.71% (1600 reads)</tspan><tspan x="227.5" dy="5.65">-0.58% (1318 reads)</tspan><tspan x="227.5" dy="5.65">-0.49% (1107 reads)</tspan><tspan x="227.5" dy="5.65">-0.46% (1041 reads)</tspan><tspan x="227.5" dy="5.65">-0.29% (665 reads)</tspan><tspan x="227.5" dy="5.65">-0.25% (567 reads)</tspan><tspan x="227.5" dy="5.65">-0.20% (456 reads)</tspan></text>
<use href="#lg" y="119.95"/>
</g>
</svg>
